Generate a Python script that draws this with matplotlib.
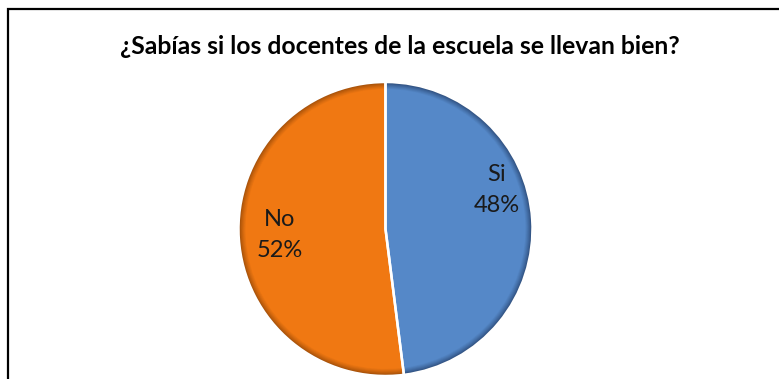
import matplotlib
matplotlib.use("Agg")
import matplotlib.pyplot as plt
import numpy as np
from matplotlib.patches import Rectangle
from matplotlib.colors import to_rgb

categories = ["Si", "No"]
values = [48, 52]
colors = ["#5588C8", "#F07812"]
edge_colors = ["#24406A", "#8E4406"]
title = "¿Sabías si los docentes de la escuela se llevan bien?"

W, H = 779, 379
fig = plt.figure(figsize=(W / 100, H / 100), dpi=100)
fig.patch.set_facecolor("white")

# frame
fig.patches.append(Rectangle((8 / W, -0.1), 2.0, 1 - 9 / H + 0.1, transform=fig.transFigure,
                             fill=False, edgecolor="black", linewidth=1.6, zorder=0))

cx, cy, r = 385.5, 229, 147
ax = fig.add_axes([(cx - r) / W, (H - cy - r) / H, 2 * r / W, 2 * r / H])

# bevel layers: from dark edge to main colour
n = 9
for i in range(n):
    t = i / (n - 1)
    rad = 1.0 - i * 0.006
    cols = []
    for c, e in zip(colors, edge_colors):
        cc = np.array(to_rgb(c)); ee = np.array(to_rgb(e))
        cols.append(tuple(ee + (cc - ee) * (t ** 0.7)))
    ax.pie(values, colors=cols, startangle=90, counterclock=False, radius=rad,
           wedgeprops=dict(linewidth=0), frame=False)

ax.pie(values, colors=colors, startangle=90, counterclock=False, radius=0.95,
       wedgeprops=dict(linewidth=0))
# separators
ax.pie(values, colors=["none", "none"], startangle=90, counterclock=False, radius=1.0,
       wedgeprops=dict(linewidth=1.8, edgecolor="white", fill=False))
ax.set_xlim(-1, 1)
ax.set_ylim(-1, 1)
ax.set_aspect("equal")
ax.axis("off")

fontfam = ["Lato", "DejaVu Sans"]
label_pos = [(0.758, 0.265), (-0.718, -0.041)]
for cat, v, (x, y) in zip(categories, values, label_pos):
    ax.text(x, y, f"{cat}\n{v}%", ha="center", va="center", fontsize=17,
            family=fontfam, color="#1a1a1a", linespacing=1.55)

fig.text(400 / W, 1 - 47 / H, title, ha="center", va="center", fontsize=17.8,
         fontweight="bold", family=fontfam, color="black")

fig.savefig("out.png", dpi=100, facecolor="white")
